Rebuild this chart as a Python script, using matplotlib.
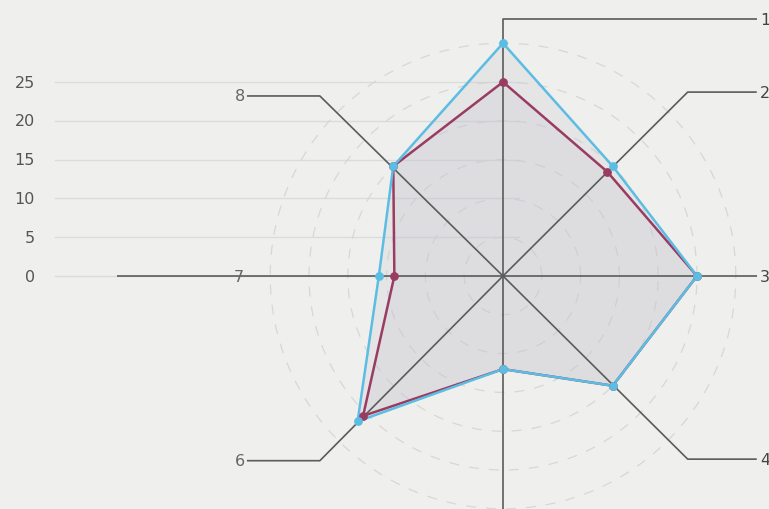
import numpy as np
import matplotlib
matplotlib.use("Agg")
import matplotlib.pyplot as plt

categories = ["1", "2", "3", "4", "5", "6", "7", "8"]
series_red = [25, 19, 25, 20, 12, 25.5, 14, 20]
series_blue = [30, 20, 25, 20, 12, 26.5, 16, 20]
y_ticks = [0, 5, 10, 15, 20, 25]
ring_levels = [5, 10, 15, 20, 25, 30]

W, H = 769, 510
fig = plt.figure(figsize=(W / 100, H / 100), dpi=100)
bg = "#eff0ee"
fig.patch.set_facecolor(bg)
ax = fig.add_axes([0, 0, 1, 1])
ax.set_facecolor(bg)
scale = 7.76  # px per unit
cx, cy = 503, 277
ax.set_xlim(-cx / scale, (W - cx) / scale)
ax.set_ylim(-(H - cy) / scale, cy / scale)
ax.set_aspect("equal")
ax.axis("off")

n = len(categories)
angles = np.pi / 2 - np.arange(n) * 2 * np.pi / n

# left value scale with horizontal grid lines
for v in y_ticks:
    ax.plot([-57.7, 2], [v, v], color="#dadcd9", lw=1.0, zorder=1)
    ax.text(-60.3, v, str(v), ha="right", va="center", fontsize=11.5,
            color="#555555", family="DejaVu Sans")

# dashed rings
th = np.linspace(0, 2 * np.pi, 400)
for r in ring_levels:
    ax.plot(r * np.cos(th), r * np.sin(th), color="#d6d8d5", lw=0.9,
            ls=(0, (8, 8)), zorder=1)

# spokes with leader lines
axc = "#5a5c5a"
diag_pts = {1: (23.8, 23.7), 3: (23.8, -23.6), 5: (-23.6, -23.8), 7: (-23.6, 23.2)}
right_x = 32.7
left_x = -33.0
fs = 11.5
for i, (a, lab) in enumerate(zip(angles, categories)):
    if i == 0:
        xs, ys = [0, 0, right_x], [0, 33.1, 33.1]
        ax.text(right_x + 0.4, 33.1, lab, ha="left", va="center", fontsize=fs, color="#444")
    elif i == 2:
        xs, ys = [0, right_x], [0, 0]
        ax.text(right_x + 0.4, 0, lab, ha="left", va="center", fontsize=fs, color="#444")
    elif i == 4:
        xs, ys = [0, 0], [0, -32]
    elif i == 6:
        xs, ys = [0, -49.7], [0, 0]
        ax.text(-34.1, 0, lab, ha="center", va="center", fontsize=fs, color="#666")
    else:
        ex, ey = diag_pts[i]
        hx = right_x if ex > 0 else left_x
        xs, ys = [0, ex, hx], [0, ey, ey]
        if ex > 0:
            ax.text(hx + 0.4, ey, lab, ha="left", va="center", fontsize=fs, color="#444")
        else:
            ax.text(hx - 0.2, ey, lab, ha="right", va="center", fontsize=fs, color="#666")
    ax.plot(xs, ys, color=axc, lw=1.2, zorder=2, solid_capstyle="butt")

def polar(vals):
    v = np.array(vals, dtype=float)
    x = v * np.cos(angles)
    y = v * np.sin(angles)
    return np.append(x, x[0]), np.append(y, y[0])

for k, (vals, col) in enumerate([(series_red, "#9a3b62"), (series_blue, "#5cbde3")]):
    x, y = polar(vals)
    ax.fill(x, y, color="#c9c6d2", alpha=0.25, zorder=1.5, lw=0)
    ax.plot(x, y, color=col, lw=1.8, zorder=3 + k)
    ax.scatter(x[:-1], y[:-1], s=40, color=col, zorder=5 + k, linewidths=0)

fig.savefig("out.png", dpi=100, facecolor=bg)
